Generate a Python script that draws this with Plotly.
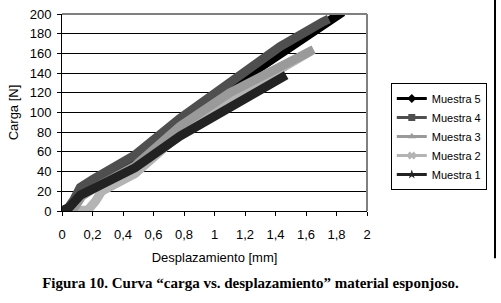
import plotly.graph_objects as go

# ---- data ----
names = ["Muestra 5", "Muestra 4", "Muestra 3", "Muestra 2", "Muestra 1"]

m5_x = [0.0, 0.05, 0.10, 0.15, 0.48, 0.774, 1.10, 1.43, 1.67, 1.84]
m5_y = [0, 3, 13, 21, 51, 89, 125, 160, 184, 202]

m4_x = [0.0, 0.04, 0.08, 0.12, 0.20, 0.48, 0.774, 1.10, 1.43, 1.71, 1.75]
m4_y = [0, 3, 12, 24, 32, 57, 94, 131, 167, 192, 195]

m3_x = [0.0, 0.08, 0.13, 0.20, 0.48, 0.774, 1.10, 1.47, 1.65]
m3_y = [0, 3, 15, 22, 46, 86, 120, 151, 164]

m2_x = [0.05, 0.17, 0.22, 0.26, 0.48, 0.774, 1.10, 1.47, 1.63]
m2_y = [0, 1, 10, 20, 38, 78, 114, 149, 162]

m1_x = [0.0, 0.05, 0.12, 0.20, 0.48, 0.774, 1.10, 1.47]
m1_y = [0, 4, 16, 22, 44, 76, 106, 138]

x_ticks = [0, 0.2, 0.4, 0.6, 0.8, 1, 1.2, 1.4, 1.6, 1.8, 2]
y_ticks = [0, 20, 40, 60, 80, 100, 120, 140, 160, 180, 200]

caption = "Figura 10. Curva “carga vs. desplazamiento” material esponjoso."

series = {
    "Muestra 5": (m5_x, m5_y, "#000000", "diamond"),
    "Muestra 4": (m4_x, m4_y, "#4f4f4f", "square"),
    "Muestra 3": (m3_x, m3_y, "#9a9a9a", "triangle-up"),
    "Muestra 2": (m2_x, m2_y, "#b4b4b4", "x"),
    "Muestra 1": (m1_x, m1_y, "#222222", "star"),
}

fig = go.Figure()

for nm in ["Muestra 5", "Muestra 4", "Muestra 2", "Muestra 3", "Muestra 1"]:
    xs, ys, col, sym = series[nm]
    fig.add_trace(go.Scatter(x=xs, y=ys, mode="lines", showlegend=False,
                             line=dict(color=col, width=9), hoverinfo="skip"))

for nm in names:
    xs, ys, col, sym = series[nm]
    fig.add_trace(go.Scatter(x=[None], y=[None], mode="lines+markers", name=nm,
                             line=dict(color=col, width=3),
                             marker=dict(color=col, symbol=sym, size=7)))

fig.update_layout(
    width=501, height=303,
    margin=dict(l=62, r=134, t=14, b=92, autoexpand=False),
    paper_bgcolor="white", plot_bgcolor="white",
    separators=",.",
    font=dict(family="Liberation Sans, Arial", size=13, color="black"),
    showlegend=True,
    title=dict(text="<b>" + caption + "</b>", xref="container", yref="container",
               x=0.5, y=(303 - 283) / 303, xanchor="center", yanchor="middle",
               font=dict(family="Liberation Serif, Times New Roman", size=15, color="black")),
    legend=dict(x=1.078, y=0.65, xanchor="left", yanchor="top",
                bordercolor="black", borderwidth=1, bgcolor="white",
                font=dict(size=11), itemwidth=30, tracegroupgap=0),
    xaxis=dict(range=[0, 2], tickvals=x_ticks, showgrid=False, zeroline=False,
               showline=True, linecolor="black", linewidth=1,
               ticks="outside", ticklen=4, tickcolor="black",
               tickfont=dict(size=13), ticklabelstandoff=7,
               title=dict(text="Desplazamiento [mm]", font=dict(size=13), standoff=12)),
    yaxis=dict(range=[0, 200], tickvals=y_ticks, showgrid=True, gridcolor="black",
               gridwidth=1, zeroline=False,
               showline=True, linecolor="black", linewidth=1,
               ticks="outside", ticklen=4, tickcolor="black",
               tickfont=dict(size=13), ticklabelstandoff=3,
               title=dict(text="Carga [N]", font=dict(size=13), standoff=8)),
    shapes=[
        dict(type="line", xref="paper", yref="paper", x0=0, x1=1, y0=1, y1=1,
             line=dict(color="#808080", width=2)),
        dict(type="line", xref="paper", yref="paper", x0=1, x1=1, y0=0, y1=1,
             line=dict(color="#808080", width=2)),
        dict(type="line", xref="paper", yref="paper", x0=1.4197, x1=1.4197,
             y0=1.075, y1=-0.24, line=dict(color="black", width=2)),
    ],
)

fig.write_html("out.html", config={"displayModeBar": False},
               post_script="document.body.style.margin='0';document.body.style.padding='0';")
